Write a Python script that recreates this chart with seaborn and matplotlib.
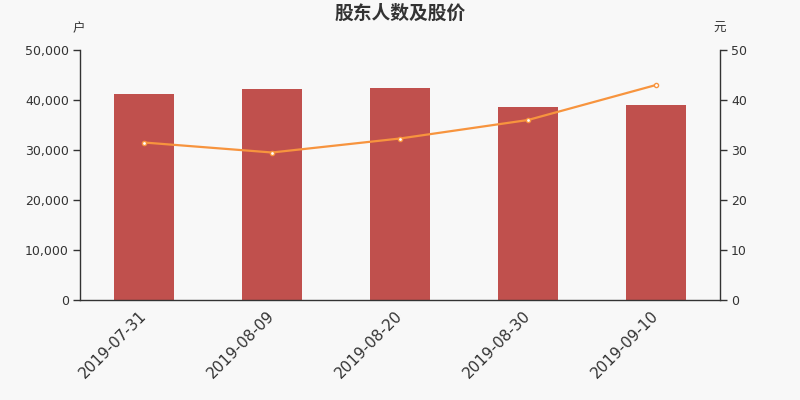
import matplotlib
matplotlib.use("Agg")
import matplotlib.pyplot as plt
import seaborn as sns
from matplotlib.ticker import FuncFormatter, FixedLocator

dates = ["2019-07-31", "2019-08-09", "2019-08-20", "2019-08-30", "2019-09-10"]
holders = [41200, 42270, 42470, 38530, 38930]
prices = [31.5, 29.5, 32.3, 36.0, 43.0]

sns.set_style("white")
plt.rcParams["font.family"] = ["DejaVu Sans", "Noto Sans CJK SC"]

bg = "#f8f8f8"
txt = "#333333"
fig = plt.figure(figsize=(8, 4), dpi=100, facecolor=bg)
ax = fig.add_axes([0.1, 0.25, 0.8, 0.625], facecolor=bg)

sns.barplot(x=dates, y=holders, ax=ax, color="#c0504d", width=0.47,
            saturation=1, linewidth=0)
ax.set_ylim(0, 50000)
ax.set_yticks(range(0, 50001, 10000))
ax.yaxis.set_major_formatter(FuncFormatter(lambda v, p: f"{int(v):,}"))

ax2 = ax.twinx()
sns.pointplot(x=dates, y=prices, ax=ax2, color="#f7943e", markers="o",
              markersize=3, linewidth=1.6)
for ln in ax2.lines:
    ln.set_markerfacecolor("white")
    ln.set_markeredgecolor("#f7943e")
    ln.set_markeredgewidth(1)
ax2.set_ylim(0, 50)
ax2.set_yticks(range(0, 51, 10))
ax.set_xlim(-0.5, 4.5)
ax2.set_xlim(-0.5, 4.5)

for a in (ax, ax2):
    a.set_xlabel("")
    a.set_ylabel("")
    a.spines["top"].set_visible(False)
    for s in ("left", "right", "bottom"):
        a.spines[s].set_color(txt)
        a.spines[s].set_linewidth(1)
    a.tick_params(axis="y", direction="out", length=5, color=txt,
                  labelcolor=txt, labelsize=9, width=1, pad=3)

ax.tick_params(axis="x", which="major", length=0, labelsize=11,
               labelcolor=txt, pad=10)
ax.xaxis.set_minor_locator(FixedLocator([i - 0.5 for i in range(6)]))
ax.tick_params(axis="x", which="minor", length=5, color=txt, width=1)
plt.setp(ax.get_xticklabels(), rotation=45, ha="right", va="center",
         rotation_mode="anchor")
ax2.tick_params(axis="x", which="both", length=0)
ax.spines["right"].set_visible(False)
ax2.spines["left"].set_visible(False)
ax2.spines["bottom"].set_visible(False)

cjk = ["Noto Sans CJK SC", "DejaVu Sans"]
fig.text(0.5, 0.967, "股东人数及股价", ha="center", va="center",
         fontsize=13.5, fontweight="bold", color=txt, family=cjk)
fig.text(0.098, 0.929, "户", ha="center", va="center", fontsize=9,
         color=txt, family=cjk)
fig.text(0.899, 0.929, "元", ha="center", va="center", fontsize=9,
         color=txt, family=cjk)

fig.savefig("out.png", dpi=100, facecolor=bg)
